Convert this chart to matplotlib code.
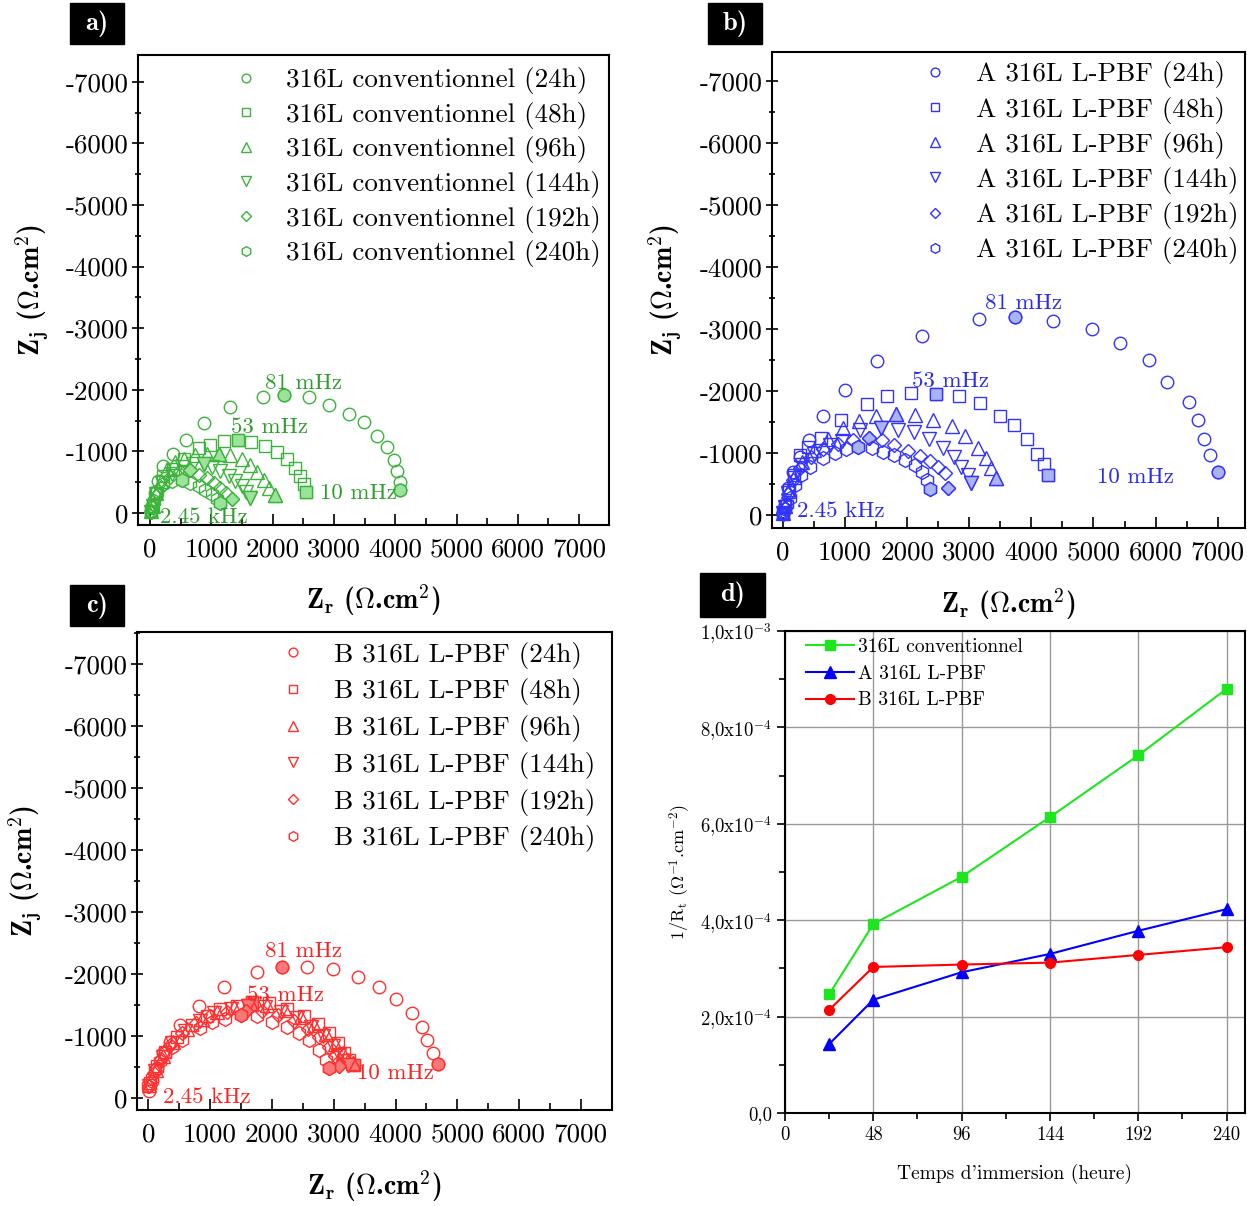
import numpy as np
import matplotlib
matplotlib.use('Agg')
import matplotlib.pyplot as plt
from matplotlib.ticker import MultipleLocator, FuncFormatter
from matplotlib.patches import Rectangle

plt.rcParams['font.family'] = ['cmr10', 'DejaVu Serif']
plt.rcParams['mathtext.fontset'] = 'cm'
plt.rcParams['axes.formatter.use_mathtext'] = True

# ---------------- data : Nyquist (Zr, -Zj) in ohm.cm2 ----------------
hours = ['24h', '48h', '96h', '144h', '192h', '240h']

# a) 316L conventionnel
a24_x = [10, 40, 80, 130, 218, 371, 589, 873, 1309, 1838, 2182, 2591, 2919, 3246, 3491, 3710, 3873, 3983, 4026, 4081, 4081]
a24_y = [30, 150, 330, 520, 769, 950, 1181, 1456, 1714, 1879, 1912, 1879, 1758, 1610, 1484, 1253, 1071, 852, 676, 505, 374]
a48_x = [10, 40, 100, 218, 382, 546, 791, 982, 1200, 1429, 1653, 1882, 2073, 2237, 2357, 2444, 2510, 2548]
a48_y = [25, 120, 330, 604, 714, 879, 1055, 1110, 1165, 1187, 1154, 1082, 989, 868, 725, 604, 467, 346]
a96_x = [10, 40, 100, 180, 273, 409, 546, 736, 927, 1118, 1309, 1500, 1637, 1746, 1855, 1937, 2046]
a96_y = [25, 120, 320, 520, 714, 824, 879, 934, 962, 962, 934, 879, 780, 659, 538, 412, 286]
a144_x = [10, 40, 100, 200, 350, 520, 700, 873, 1009, 1146, 1282, 1391, 1500, 1571, 1637]
a144_y = [20, 110, 300, 480, 640, 750, 800, 790, 742, 676, 604, 522, 440, 341, 247]
a192_x = [10, 35, 90, 180, 320, 491, 655, 791, 927, 1047, 1146, 1244, 1337]
a192_y = [20, 100, 270, 420, 580, 680, 690, 620, 560, 484, 412, 330, 231]
a240_x = [8, 30, 60, 109, 218, 355, 518, 655, 791, 900, 1009, 1091, 1135]
a240_y = [15, 90, 200, 357, 467, 522, 538, 494, 440, 374, 302, 220, 162]
a_fill = [[10, 20], [9, 17], [9, 16], [7, 14], [6, 12], [6, 12]]

# b) A 316L L-PBF
b24_x = [5, 27, 81, 162, 269, 415, 646, 1002, 1508, 2235, 3150, 3743, 4351, 4970, 5428, 5886, 6177, 6532, 6677, 6785, 6882, 7000]
b24_y = [30, 162, 431, 700, 942, 1212, 1599, 2009, 2477, 2881, 3166, 3188, 3134, 3005, 2773, 2504, 2138, 1815, 1524, 1228, 969, 700]
b48_x = [5, 30, 90, 170, 269, 404, 619, 932, 1357, 1669, 2057, 2461, 2838, 3177, 3500, 3726, 3931, 4093, 4211, 4265]
b48_y = [25, 150, 400, 650, 969, 1104, 1239, 1535, 1788, 1912, 1966, 1955, 1912, 1804, 1599, 1454, 1222, 985, 819, 646]
b96_x = [5, 30, 85, 170, 300, 500, 730, 969, 1228, 1497, 1815, 2127, 2423, 2720, 2935, 3134, 3269, 3350, 3436]
b96_y = [25, 140, 380, 620, 850, 1050, 1230, 1400, 1519, 1589, 1626, 1616, 1535, 1438, 1266, 1088, 915, 754, 592]
b144_x = [5, 30, 85, 170, 300, 500, 754, 942, 1239, 1578, 1847, 2111, 2343, 2574, 2746, 2870, 2978, 3026]
b144_y = [25, 130, 360, 590, 800, 990, 1131, 1196, 1373, 1400, 1373, 1335, 1222, 1088, 942, 781, 646, 512]
b192_x = [5, 28, 80, 160, 280, 450, 650, 880, 1131, 1384, 1589, 1793, 2019, 2208, 2369, 2504, 2612, 2655]
b192_y = [25, 120, 340, 560, 760, 930, 1060, 1150, 1212, 1249, 1212, 1131, 1039, 959, 878, 781, 673, 442]
b240_x = [5, 25, 60, 108, 188, 296, 431, 646, 835, 1007, 1212, 1427, 1616, 1793, 1966, 2127, 2235, 2316, 2369]
b240_y = [20, 100, 180, 269, 485, 646, 781, 915, 1007, 1066, 1104, 1077, 1023, 969, 889, 808, 700, 565, 420]
b_fill = [[11, 21], [11, 19], [10, 18], [9, 17], [9, 17], [10, 18]]

# c) B 316L L-PBF
c24_x = [11, 54, 136, 244, 352, 515, 813, 1220, 1752, 2169, 2565, 2983, 3389, 3726, 4002, 4273, 4431, 4517, 4610, 4691]
c24_y = [107, 268, 482, 723, 910, 1178, 1483, 1783, 2034, 2115, 2115, 2072, 1954, 1783, 1590, 1365, 1140, 937, 733, 546]
c48_x = [27, 136, 271, 461, 705, 949, 1166, 1437, 1681, 1952, 2251, 2522, 2739, 2928, 3064, 3172, 3254, 3335]
c48_y = [241, 509, 749, 990, 1178, 1322, 1435, 1483, 1552, 1526, 1429, 1322, 1194, 1044, 883, 733, 616, 535]
c96_x = [16, 125, 244, 407, 624, 868, 1112, 1383, 1654, 1925, 2207, 2467, 2684, 2874, 3021, 3145, 3227, 3308]
c96_y = [214, 455, 680, 910, 1108, 1269, 1392, 1461, 1515, 1499, 1419, 1312, 1178, 1033, 873, 723, 605, 562]
c144_x = [11, 114, 233, 390, 597, 830, 1068, 1339, 1611, 1882, 2153, 2413, 2630, 2820, 2983, 3091, 3172, 3227]
c144_y = [198, 428, 653, 883, 1081, 1242, 1365, 1435, 1483, 1461, 1387, 1285, 1151, 1001, 840, 696, 589, 535]
c192_x = [5, 98, 206, 352, 553, 776, 1003, 1274, 1573, 1844, 2104, 2359, 2576, 2766, 2928, 3021, 3064, 3091]
c192_y = [187, 401, 626, 857, 1044, 1204, 1322, 1392, 1408, 1403, 1338, 1247, 1119, 980, 819, 669, 573, 519]
c240_x = [0, 54, 108, 190, 271, 380, 542, 841, 1030, 1236, 1508, 1762, 2007, 2251, 2440, 2603, 2766, 2874, 2928]
c240_y = [187, 321, 455, 589, 723, 830, 937, 1124, 1231, 1269, 1338, 1322, 1231, 1151, 1044, 937, 776, 616, 482]
c_fill = [[9, 19], [8, 17], [8, 17], [8, 17], [8, 17], [10, 18]]

# d) 1/Rt vs immersion time
temps = [24, 48, 96, 144, 192, 240]
inv_rt_conv = [2.46e-4, 3.92e-4, 4.90e-4, 6.14e-4, 7.42e-4, 8.80e-4]
inv_rt_a = [1.43e-4, 2.35e-4, 2.92e-4, 3.30e-4, 3.78e-4, 4.23e-4]
inv_rt_b = [2.14e-4, 3.03e-4, 3.08e-4, 3.12e-4, 3.28e-4, 3.44e-4]

markers = ['o', 's', '^', 'v', 'D', 'h']
msizes = [9, 8.5, 9.5, 9.5, 7.5, 10]

fig = plt.figure(figsize=(12.47, 12.06), dpi=100)


def nyquist(rect, xs, ys, fills, name, edge, face, txt, xlim, ylim, leg_anchor, lspace, notes, ylab_x):
    ax = fig.add_axes(rect)
    for i in range(6):
        x = np.array(xs[i])
        y = np.array(ys[i])
        ax.plot(x, y, ls='none', marker=markers[i], ms=msizes[i], mfc='none', mec=edge,
                mew=1.0, label=name + ' (' + hours[i] + ')')
        f = fills[i]
        ax.plot(x[f], y[f], ls='none', marker=markers[i], ms=msizes[i], mfc=face, mec=edge, mew=1.0)
    ax.set_xlim(xlim)
    ax.set_ylim(ylim)
    ax.xaxis.set_major_locator(MultipleLocator(1000))
    ax.xaxis.set_minor_locator(MultipleLocator(500))
    ax.yaxis.set_major_locator(MultipleLocator(1000))
    ax.yaxis.set_minor_locator(MultipleLocator(500))
    ax.xaxis.set_major_formatter(FuncFormatter(lambda v, p: '%d' % v))
    ax.yaxis.set_major_formatter(FuncFormatter(lambda v, p: '0' if v == 0 else '-%d' % v))
    ax.tick_params(axis='x', which='both', direction='in', labelsize=19.5, pad=9, width=1.2)
    ax.tick_params(axis='y', which='both', direction='inout', labelsize=19.5, pad=3, width=1.2)
    ax.tick_params(which='major', length=8)
    ax.tick_params(which='minor', length=5)
    for s in ax.spines.values():
        s.set_linewidth(1.5)
    ax.set_xlabel(r'$\mathbf{Z_r}$ ($\mathbf{\Omega}$.cm$^\mathbf{2}$)', fontsize=20, family='cmb10')
    ax.xaxis.set_label_coords(0.5, -0.16)
    ax.xaxis.label.set_va('center')
    ax.set_ylabel(r'$\mathbf{Z_j}$ ($\mathbf{\Omega}$.cm$^\mathbf{2}$)', fontsize=20, family='cmb10')
    ax.yaxis.set_label_coords(ylab_x, 0.5)
    ax.yaxis.label.set_va('center')
    ax.legend(loc='upper left', bbox_to_anchor=leg_anchor, frameon=False, fontsize=19.5,
              markerscale=0.7, handlelength=1.0, handletextpad=1.0, labelspacing=lspace,
              borderpad=0, borderaxespad=0)
    for (tx, ty, s) in notes:
        ax.text(tx, ty, s, color=txt, fontsize=16.5, ha='left', va='center')
    return ax


nyquist([0.1107, 0.5647, 0.3777, 0.3897],
        [a24_x, a48_x, a96_x, a144_x, a192_x, a240_x],
        [a24_y, a48_y, a96_y, a144_y, a192_y, a240_y],
        a_fill, '316L conventionnel', '#3cb43c', '#9be39b', '#2e9e2e',
        (-196, 7488), (-195, 7435), (0.2, 0.974), 0.28,
        [(1876, 2110, '81 mHz'), (1321, 1396, '53 mHz'), (2773, 325, '10 mHz'), (163, -65, '2.45 kHz')],
        -0.225)

nyquist([0.6191, 0.5622, 0.3793, 0.3947],
        [b24_x, b48_x, b96_x, b144_x, b192_x, b240_x],
        [b24_y, b48_y, b96_y, b144_y, b192_y, b240_y],
        b_fill, 'A 316L L-PBF', '#3333ff', '#aab4f5', '#2b2bf0',
        (-177, 7440), (-210, 7468), (0.317, 0.98), 0.3,
        [(3253, 3419, '81 mHz'), (2077, 2161, '53 mHz'), (5056, 613, '10 mHz'), (225, 65, '2.45 kHz')],
        -0.226)

nyquist([0.1099, 0.0796, 0.3809, 0.3964],
        [c24_x, c48_x, c96_x, c144_x, c192_x, c240_x],
        [c24_y, c48_y, c96_y, c144_y, c192_y, c240_y],
        c_fill, 'B 316L L-PBF', '#ff3030', '#f77878', '#ff2020',
        (-182, 7503), (-194, 7516), (0.30, 0.98), 0.36,
        [(1888, 2371, '81 mHz'), (1597, 1661, '53 mHz'), (3374, 403, '10 mHz'), (231, 16, '2.45 kHz')],
        -0.236)

# ---------------- panel d ----------------
axd = fig.add_axes([0.6295, 0.0771, 0.3689, 0.3997])
axd.plot(temps, inv_rt_conv, color='#1ee61e', marker='s', ms=7, lw=1.5, label='316L conventionnel')
axd.plot(temps, inv_rt_a, color='#0000ff', marker='^', ms=8, lw=1.5, label='A 316L L-PBF')
axd.plot(temps, inv_rt_b, color='#ff0000', marker='o', ms=7, lw=1.5, label='B 316L L-PBF')
axd.set_xlim(0, 250)
axd.set_ylim(0, 1e-3)
axd.xaxis.set_major_locator(MultipleLocator(48))
axd.xaxis.set_minor_locator(MultipleLocator(24))
axd.yaxis.set_major_locator(MultipleLocator(2e-4))
axd.yaxis.set_minor_locator(MultipleLocator(1e-4))


def sci(v, p):
    if v < 1e-12:
        return '0,0'
    e = int(np.floor(np.log10(v) + 1e-9))
    m = v / 10 ** e
    return ('%.1f' % m).replace('.', ',') + 'x10$^{%d}$' % e


axd.yaxis.set_major_formatter(FuncFormatter(sci))
axd.xaxis.set_major_formatter(FuncFormatter(lambda v, p: '%d' % v))
axd.grid(True, which='major', color='#999999', lw=1.0)
axd.tick_params(which='both', direction='out', labelsize=13.5, width=1.2)
axd.tick_params(which='major', length=6)
axd.tick_params(which='minor', length=4)
for s in axd.spines.values():
    s.set_linewidth(1.5)
axd.set_xlabel("Temps d'immersion (heure)", fontsize=14)
axd.xaxis.set_label_coords(0.5, -0.105)
axd.set_ylabel(r'1/R$_\mathrm{t}$ ($\Omega^{-1}$.cm$^{-2}$)', fontsize=13)
axd.yaxis.set_label_coords(-0.228, 0.5)
axd.yaxis.label.set_va('center')
axd.legend(loc='upper left', bbox_to_anchor=(0.045, 0.985), frameon=False, fontsize=14,
           handlelength=2.5, handletextpad=0.2, labelspacing=0.45, borderpad=0, borderaxespad=0)

# ---------------- panel tags ----------------
for (x0, y0, w, h, s) in [(70, 3, 54, 41, 'a)'), (708, 3, 54, 41, 'b)'),
                          (70, 585, 54, 41, 'c)'), (700, 573, 65, 44, 'd)')]:
    fig.add_artist(Rectangle((x0 / 1247, 1 - (y0 + h) / 1206), w / 1247, h / 1206,
                             transform=fig.transFigure, color='black'))
    fig.text((x0 + w / 2) / 1247, 1 - (y0 + h / 2) / 1206, s, color='white', fontsize=19,
             family='cmb10', ha='center', va='center')

fig.savefig('out.png', dpi=100)
